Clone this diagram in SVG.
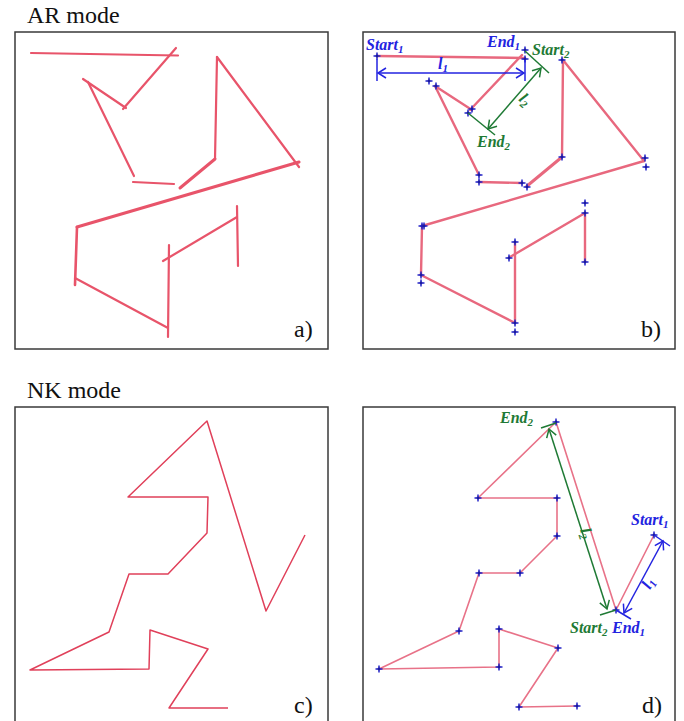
<svg xmlns="http://www.w3.org/2000/svg" xmlns:xlink="http://www.w3.org/1999/xlink" width="684" height="721" viewBox="0 0 684 721">
<style>
.frame{fill:#fff;stroke:#3a3a3a;stroke-width:1.5}
.title{font-family:"Liberation Serif","Times New Roman",serif;font-size:24px;fill:#111}
.lab{font-family:"Liberation Serif","Times New Roman",serif;font-size:24px;fill:#111}
.ta{fill:none;stroke:#e8546a;stroke-width:2.2;stroke-linecap:round}
.tb{fill:none;stroke:#e8687e;stroke-width:2.4;stroke-linecap:round}
.tc{fill:none;stroke:#e0405a;stroke-width:1.5;stroke-linejoin:round}
.td{fill:none;stroke:#e87288;stroke-width:1.6;stroke-linejoin:round}
.blue{fill:none;stroke:#2323e0;stroke-width:1.5}
.green{fill:none;stroke:#1f7a35;stroke-width:1.5}
.tb1{font-family:"Liberation Serif","Times New Roman",serif;font-size:16px;font-weight:bold;font-style:italic;fill:#2323e0}
.tg1{font-family:"Liberation Serif","Times New Roman",serif;font-size:16px;font-weight:bold;font-style:italic;fill:#1f7a35}
.sub{font-size:11px}
</style>
<defs>
<marker id="arB" viewBox="-10 -6 12 12" markerWidth="12" markerHeight="12" markerUnits="userSpaceOnUse" orient="auto-start-reverse" refX="0" refY="0">
<path d="M-8,-5 L0,0 L-8,5" fill="none" stroke="#2323e0" stroke-width="1.5"/>
</marker>
<marker id="arG" viewBox="-10 -6 12 12" markerWidth="12" markerHeight="12" markerUnits="userSpaceOnUse" orient="auto-start-reverse" refX="0" refY="0">
<path d="M-8,-5 L0,0 L-8,5" fill="none" stroke="#1f7a35" stroke-width="1.5"/>
</marker>
<g id="p"><path d="M-3.5,0H3.5M0,-3.5V3.5" stroke="#2323c8" stroke-width="1.5" fill="none"/><circle r="1.4" fill="#1a1aa0"/></g>
</defs>

<text class="title" x="27" y="23">AR mode</text>
<text class="title" x="27" y="398">NK mode</text>

<!-- Panel a -->
<g id="panel-a">
<rect class="frame" x="15" y="32" width="313" height="317"/>
<g id="strokes-a">
<line class="ta" x1="31" y1="53" x2="178" y2="55.5"/>
<line class="ta" x1="176" y1="48" x2="123" y2="109"/>
<line class="ta" x1="83" y1="79" x2="126" y2="108"/>
<line class="ta" x1="88" y1="82" x2="134" y2="176"/>
<line class="ta" x1="133" y1="182" x2="174" y2="184"/>
<line class="ta" x1="180" y1="188" x2="215" y2="159" style="stroke-width:3"/>
<line class="ta" x1="215" y1="159" x2="217" y2="57"/>
<line class="ta" x1="217" y1="57" x2="299" y2="167"/>
<line class="ta" x1="299" y1="162" x2="77" y2="227" style="stroke-width:3"/>
<line class="ta" x1="77" y1="227" x2="75" y2="285" style="stroke-width:2.6"/>
<line class="ta" x1="75" y1="278" x2="168" y2="328"/>
<line class="ta" x1="169" y1="245" x2="168" y2="337"/>
<line class="ta" x1="163" y1="261" x2="237" y2="217"/>
<line class="ta" x1="237" y1="206" x2="238" y2="266"/>
</g>
<text class="lab" x="294" y="337">a)</text>
</g>

<!-- Panel b -->
<g id="panel-b">
<rect class="frame" x="363" y="32" width="312" height="317"/>
<g id="strokes-b">
<line class="tb" x1="377" y1="56" x2="525" y2="58"/>
<line class="tb" x1="522" y1="55" x2="470" y2="110"/>
<line class="tb" x1="435" y1="86" x2="472" y2="110"/>
<line class="tb" x1="435" y1="86" x2="479" y2="175"/>
<line class="tb" x1="479" y1="182" x2="522" y2="183"/>
<line class="tb" x1="527" y1="186" x2="562" y2="157" style="stroke-width:3"/>
<line class="tb" x1="562" y1="157" x2="563" y2="60"/>
<line class="tb" x1="563" y1="60" x2="644" y2="161"/>
<line class="tb" x1="644" y1="161" x2="422" y2="226"/>
<line class="tb" x1="422" y1="226" x2="421" y2="275"/>
<line class="tb" x1="421" y1="275" x2="515" y2="323"/>
<line class="tb" x1="515" y1="323" x2="515" y2="243"/>
<line class="tb" x1="510" y1="257" x2="585" y2="213"/>
<line class="tb" x1="585" y1="213" x2="585" y2="262"/>
</g>
<g id="points-b">
<use xlink:href="#p" x="377" y="56"/><use xlink:href="#p" x="525" y="50"/><use xlink:href="#p" x="525" y="59"/>
<use xlink:href="#p" x="429" y="81"/><use xlink:href="#p" x="436" y="86"/><use xlink:href="#p" x="472" y="109"/>
<use xlink:href="#p" x="468" y="113"/><use xlink:href="#p" x="479" y="175"/><use xlink:href="#p" x="479" y="182"/>
<use xlink:href="#p" x="522" y="183"/><use xlink:href="#p" x="527" y="187"/><use xlink:href="#p" x="562" y="60"/>
<use xlink:href="#p" x="562" y="157"/><use xlink:href="#p" x="645" y="158"/><use xlink:href="#p" x="646" y="167"/>
<use xlink:href="#p" x="422" y="226"/><use xlink:href="#p" x="424" y="226"/><use xlink:href="#p" x="421" y="275"/>
<use xlink:href="#p" x="421" y="283"/><use xlink:href="#p" x="515" y="323"/><use xlink:href="#p" x="515" y="332"/>
<use xlink:href="#p" x="515" y="242"/><use xlink:href="#p" x="509" y="258"/><use xlink:href="#p" x="585" y="203"/>
<use xlink:href="#p" x="585" y="213"/><use xlink:href="#p" x="585" y="262"/>
</g>
<g id="dim-l1-b">
<line class="blue" x1="377" y1="59" x2="377" y2="81"/>
<line class="blue" x1="525" y1="60" x2="525" y2="81"/>
<line class="blue" x1="378" y1="73" x2="524" y2="73" marker-start="url(#arB)" marker-end="url(#arB)"/>
<text class="tb1" x="438" y="69">l<tspan class="sub" dy="3">1</tspan></text>
</g>
<g id="dim-l2-b">
<line class="green" x1="525" y1="51" x2="549" y2="73"/>
<line class="green" x1="468" y1="113" x2="495" y2="135"/>
<line class="green" x1="541" y1="68" x2="488" y2="129" marker-start="url(#arG)" marker-end="url(#arG)"/>
<text class="tg1" transform="translate(518,100) rotate(42)">l<tspan class="sub" dy="3">2</tspan></text>
</g>
<text class="tb1" x="366" y="50">Start<tspan class="sub" dy="3">1</tspan></text>
<text class="tb1" x="487" y="47">End<tspan class="sub" dy="3">1</tspan></text>
<text class="tg1" x="532" y="55">Start<tspan class="sub" dy="3">2</tspan></text>
<text class="tg1" x="477" y="147">End<tspan class="sub" dy="3">2</tspan></text>
<text class="lab" x="641" y="337">b)</text>
</g>

<!-- Panel c -->
<g id="panel-c">
<rect class="frame" x="15" y="407" width="313" height="330"/>
<polyline class="tc" points="228,708 169,708 208,649 150,630 149,669 30,670 109,632 129,574 168,574 207,533 208,497 128,497 207,421 266,611 305,535"/>
<text class="lab" x="294" y="713">c)</text>
</g>

<!-- Panel d -->
<g id="panel-d">
<rect class="frame" x="363" y="407" width="312" height="330"/>
<polyline class="td" points="577,706 519,707 558,648 499,629 499,667 379,669 459,631 479,573 520,573 557,536 557,498 478,498 556,422 616,610 654,535"/>
<g id="points-d">
<use xlink:href="#p" x="577" y="706"/><use xlink:href="#p" x="519" y="707"/><use xlink:href="#p" x="558" y="648"/>
<use xlink:href="#p" x="499" y="629"/><use xlink:href="#p" x="499" y="667"/><use xlink:href="#p" x="379" y="669"/>
<use xlink:href="#p" x="459" y="631"/><use xlink:href="#p" x="479" y="573"/><use xlink:href="#p" x="520" y="573"/>
<use xlink:href="#p" x="557" y="536"/><use xlink:href="#p" x="557" y="498"/><use xlink:href="#p" x="478" y="498"/>
<use xlink:href="#p" x="556" y="422"/><use xlink:href="#p" x="616" y="610"/><use xlink:href="#p" x="654" y="535"/>
</g>
<g id="dim-l2-d">
<line class="green" x1="541" y1="428" x2="556" y2="423"/>
<line class="green" x1="600" y1="615" x2="616" y2="610"/>
<line class="green" x1="549" y1="429" x2="607" y2="609" marker-start="url(#arG)" marker-end="url(#arG)"/>
<text class="tg1" transform="translate(580,530) rotate(72)">l<tspan class="sub" dy="3">2</tspan></text>
</g>
<g id="dim-l1-d">
<line class="blue" x1="654" y1="535" x2="670" y2="546"/>
<line class="blue" x1="616" y1="610" x2="631" y2="619"/>
<line class="blue" x1="663" y1="541" x2="624" y2="613" marker-start="url(#arB)" marker-end="url(#arB)"/>
<text class="tb1" transform="translate(650,590) rotate(-60)">l<tspan class="sub" dy="3">1</tspan></text>
</g>
<text class="tg1" x="500" y="423">End<tspan class="sub" dy="3">2</tspan></text>
<text class="tb1" x="631" y="525">Start<tspan class="sub" dy="3">1</tspan></text>
<text class="tg1" x="570" y="633">Start<tspan class="sub" dy="3">2</tspan></text>
<text class="tb1" x="612" y="633">End<tspan class="sub" dy="3">1</tspan></text>
<text class="lab" x="642" y="713">d)</text>
</g>
</svg>
